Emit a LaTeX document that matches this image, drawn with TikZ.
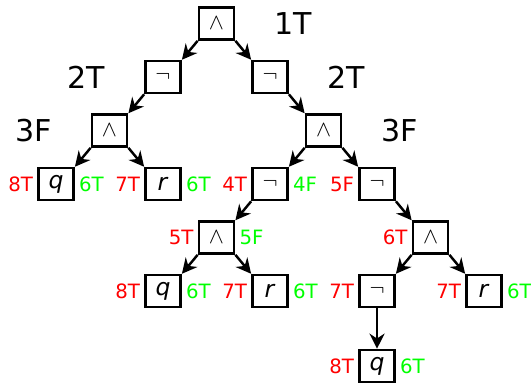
\documentclass[tikz,border=0pt]{standalone}
\usepackage{fontspec}
\setmainfont{DejaVu Sans}
\usepackage{xcolor}
\usepackage{tikz}
\usetikzlibrary{arrows.meta}
\usetikzlibrary{positioning}

\tikzset{
  box/.style={draw, line width=1.3pt, minimum width=0.66cm, minimum height=0.6cm,
    inner sep=0pt, font=\fontsize{12.5}{14}\selectfont},
  big/.style={inner sep=0pt, font=\fontsize{16}{18}\selectfont},
  lt/.style={text=red, font=\fontsize{10.5}{12}\selectfont, inner sep=2pt},
  rt/.style={text=green, font=\fontsize{10.5}{12}\selectfont, inner sep=2pt},
  edge/.style={-{Stealth[length=8pt,width=8pt]}, line width=1.3pt}
}

\begin{document}
\begin{tikzpicture}
\useasboundingbox (0,0) rectangle (9.925,-7.196);

% top of the tree
\node[box] (root) at (4.047,-0.44) {$\wedge$};
\node[box] (nl) at (3.047,-1.44) {$\neg$};
\node[box] (nr) at (5.047,-1.44) {$\neg$};
\node[box] (al) at (2.047,-2.44) {$\wedge$};
\node[box] (ar) at (6.047,-2.44) {$\wedge$};

\node[big, right=0.72cm of root] (s1) {1T};
\node[big, left=0.72cm of nl] (s2l) {2T};
\node[big, right=0.72cm of nr] (s2r) {2T};
\node[big, left=0.72cm of al] (s3l) {3F};
\node[big, right=0.72cm of ar] (s3r) {3F};

% left branch
\node[box, label={[lt]left:8T}, label={[rt]right:6T}] (q1) at (1.047,-3.44) {\textit{q}};
\node[box, label={[lt]left:7T}, label={[rt]right:6T}] (r1) at (3.047,-3.44) {\textit{r}};

% right branch
\node[box, label={[lt]left:4T}, label={[rt]right:4F}] (n3) at (5.047,-3.44) {$\neg$};
\node[box, label={[lt]left:5F}] (n4) at (7.047,-3.44) {$\neg$};
\node[box, label={[lt]left:5T}, label={[rt]right:5F}] (a3) at (4.047,-4.44) {$\wedge$};
\node[box, label={[lt]left:6T}] (a4) at (8.047,-4.44) {$\wedge$};
\node[box, label={[lt]left:8T}, label={[rt]right:6T}] (q2) at (3.047,-5.44) {\textit{q}};
\node[box, label={[lt]left:7T}, label={[rt]right:6T}] (r2) at (5.047,-5.44) {\textit{r}};
\node[box, label={[lt]left:7T}] (n5) at (7.047,-5.44) {$\neg$};
\node[box, label={[lt]left:7T}, label={[rt]right:6T}] (r3) at (9.047,-5.44) {\textit{r}};
\node[box, label={[lt]left:8T}, label={[rt]right:6T}] (q3) at (7.047,-6.84) {\textit{q}};

\draw[edge] (root.south west) -- (nl.north east);
\draw[edge] (root.south east) -- (nr.north west);
\draw[edge] (nl.south west) -- (al.north east);
\draw[edge] (nr.south east) -- (ar.north west);
\draw[edge] (al.south west) -- (q1.north east);
\draw[edge] (al.south east) -- (r1.north west);
\draw[edge] (ar.south west) -- (n3.north east);
\draw[edge] (ar.south east) -- (n4.north west);
\draw[edge] (n3.south west) -- (a3.north east);
\draw[edge] (n4.south east) -- (a4.north west);
\draw[edge] (a3.south west) -- (q2.north east);
\draw[edge] (a3.south east) -- (r2.north west);
\draw[edge] (a4.south west) -- (n5.north east);
\draw[edge] (a4.south east) -- (r3.north west);
\draw[edge] (n5.south) -- (q3.north);
\end{tikzpicture}
\end{document}
